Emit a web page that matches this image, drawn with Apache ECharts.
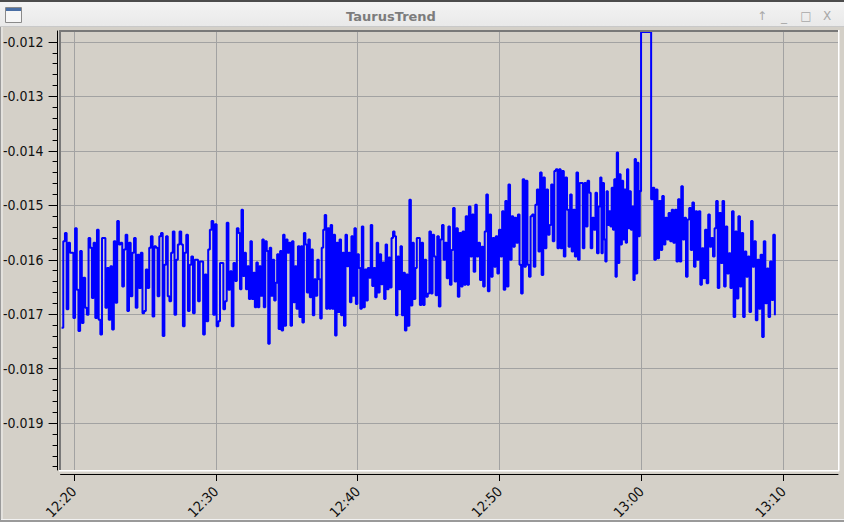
<!DOCTYPE html>
<html><head><meta charset="utf-8">
<script src="https://cdn.jsdelivr.net/npm/echarts@6/dist/echarts.min.js"></script>
<style>html,body{margin:0;padding:0;background:#d4d0c8;overflow:hidden}#c{width:844px;height:522px;}</style>
</head><body><div id="c"></div>
<script>
// ---- axis ticks ----
const yTickValues = [-0.019, -0.018, -0.017, -0.016, -0.015, -0.014, -0.013, -0.012];
const yTickLabels = ['-0.019', '-0.018', '-0.017', '-0.016', '-0.015', '-0.014', '-0.013', '-0.012'];
const xTickValues = [740, 750, 760, 770, 780, 790]; // minutes since midnight
const xTickLabels = ['12:20', '12:30', '12:40', '12:50', '13:00', '13:10'];

// ---- sample segments (boundary times in minutes since midnight) ----
const segTimes = [739.13, 751.60, 764.27, 777.09, 779.97, 780.68, 789.40];

const seg1 = [-0.01725,-0.01566,-0.01551,-0.01691,-0.01569,-0.01587,-0.01587,-0.01707,-0.01542,-0.01655,-0.01731,-0.01584,-0.01716,-0.01633,-0.01688,-0.01701,-0.01560,-0.01578,-0.01670,-0.01569,-0.01707,-0.01545,-0.01710,-0.01737,-0.01560,-0.01560,-0.01688,-0.01615,-0.01710,-0.01612,-0.01728,-0.01566,-0.01679,-0.01529,-0.01572,-0.01569,-0.01649,-0.01581,-0.01554,-0.01694,-0.01569,-0.01667,-0.01587,-0.01560,-0.01688,-0.01591,-0.01652,-0.01587,-0.01698,-0.01694,-0.01618,-0.01652,-0.01578,-0.01557,-0.01704,-0.01575,-0.01578,-0.01667,-0.01557,-0.01551,-0.01740,-0.01609,-0.01557,-0.01667,-0.01676,-0.01587,-0.01548,-0.01701,-0.01600,-0.01572,-0.01548,-0.01572,-0.01722,-0.01587,-0.01554,-0.01694,-0.01609,-0.01594,-0.01698,-0.01600,-0.01600,-0.01676,-0.01603,-0.01603,-0.01737,-0.01627,-0.01713,-0.01581,-0.01545,-0.01529,-0.01701,-0.01535,-0.01722,-0.01713,-0.01606,-0.01606,-0.01691,-0.01676,-0.01532,-0.01655,-0.01621,-0.01722,-0.01606,-0.01639,-0.01542];

const seg2 = [-0.01551,-0.01654,-0.01508,-0.01630,-0.01587,-0.01654,-0.01612,-0.01672,-0.01566,-0.01672,-0.01624,-0.01687,-0.01605,-0.01687,-0.01612,-0.01666,-0.01563,-0.01687,-0.01566,-0.01584,-0.01754,-0.01578,-0.01666,-0.01600,-0.01675,-0.01642,-0.01590,-0.01727,-0.01584,-0.01730,-0.01554,-0.01721,-0.01563,-0.01587,-0.01569,-0.01721,-0.01566,-0.01678,-0.01612,-0.01690,-0.01575,-0.01705,-0.01575,-0.01715,-0.01551,-0.01572,-0.01660,-0.01563,-0.01669,-0.01581,-0.01702,-0.01636,-0.01666,-0.01600,-0.01636,-0.01708,-0.01578,-0.01545,-0.01518,-0.01690,-0.01542,-0.01690,-0.01536,-0.01690,-0.01554,-0.01739,-0.01569,-0.01696,-0.01563,-0.01702,-0.01587,-0.01721,-0.01554,-0.01612,-0.01587,-0.01678,-0.01557,-0.01666,-0.01542,-0.01681,-0.01590,-0.01615,-0.01690,-0.01539,-0.01687,-0.01618,-0.01675,-0.01615,-0.01633,-0.01536,-0.01648,-0.01615,-0.01669,-0.01569,-0.01660,-0.01590,-0.01645,-0.01605,-0.01672,-0.01572,-0.01654,-0.01596,-0.01651,-0.01560,-0.01548,-0.01557,-0.01702,-0.01594,-0.01654,-0.01575,-0.01702,-0.01624,-0.01730,-0.01627,-0.01721,-0.01490,-0.01684,-0.01569,-0.01672,-0.01615,-0.01560];

const seg3 = [-0.01560,-0.01683,-0.01569,-0.01683,-0.01600,-0.01668,-0.01662,-0.01548,-0.01662,-0.01554,-0.01594,-0.01665,-0.01557,-0.01686,-0.01563,-0.01536,-0.01600,-0.01569,-0.01634,-0.01539,-0.01646,-0.01582,-0.01505,-0.01640,-0.01542,-0.01668,-0.01551,-0.01649,-0.01548,-0.01646,-0.01520,-0.01646,-0.01502,-0.01594,-0.01517,-0.01622,-0.01499,-0.01594,-0.01569,-0.01637,-0.01576,-0.01649,-0.01548,-0.01480,-0.01658,-0.01517,-0.01631,-0.01560,-0.01613,-0.01557,-0.01625,-0.01545,-0.01594,-0.01511,-0.01655,-0.01492,-0.01649,-0.01462,-0.01600,-0.01520,-0.01576,-0.01523,-0.01569,-0.01517,-0.01609,-0.01662,-0.01452,-0.01613,-0.01455,-0.01609,-0.01631,-0.01520,-0.01517,-0.01613,-0.01499,-0.01471,-0.01585,-0.01440,-0.01628,-0.01449,-0.01579,-0.01471,-0.01554,-0.01536,-0.01462,-0.01566,-0.01437,-0.01434,-0.01579,-0.01434,-0.01579,-0.01437,-0.01594,-0.01449,-0.01508,-0.01576,-0.01480,-0.01585,-0.01508,-0.01594,-0.01440,-0.01600,-0.01459,-0.01459,-0.01579,-0.01459,-0.01539,-0.01455,-0.01477,-0.01579,-0.01523,-0.01545,-0.01477,-0.01588,-0.01502];

const seg4 = [-0.01449,-0.01588,-0.01459,-0.01563,-0.01603,-0.01474,-0.01536,-0.01511,-0.01539,-0.01468,-0.01545,-0.01452,-0.01631,-0.01403,-0.01606,-0.01443,-0.01572,-0.01455,-0.01563,-0.01471,-0.01569,-0.01434,-0.01542,-0.01474,-0.01545,-0.01502,-0.01637,-0.01415,-0.01625,-0.01422,-0.01557,-0.01474];

const spike = [-0.01182, -0.01182];

const seg5 = [-0.01489,-0.01468,-0.01600,-0.01471,-0.01597,-0.01492,-0.01582,-0.01483,-0.01572,-0.01523,-0.01563,-0.01514,-0.01566,-0.01508,-0.01569,-0.01508,-0.01603,-0.01489,-0.01603,-0.01465,-0.01563,-0.01523,-0.01631,-0.01526,-0.01505,-0.01582,-0.01495,-0.01613,-0.01511,-0.01600,-0.01511,-0.01646,-0.01579,-0.01634,-0.01545,-0.01643,-0.01517,-0.01576,-0.01560,-0.01594,-0.01542,-0.01492,-0.01652,-0.01514,-0.01606,-0.01492,-0.01649,-0.01539,-0.01625,-0.01588,-0.01652,-0.01511,-0.01705,-0.01548,-0.01671,-0.01520,-0.01649,-0.01551,-0.01705,-0.01585,-0.01631,-0.01594,-0.01696,-0.01529,-0.01613,-0.01566,-0.01711,-0.01600,-0.01690,-0.01591,-0.01742,-0.01566,-0.01680,-0.01616,-0.01705,-0.01603,-0.01674,-0.01554,-0.01702];

const segments = [seg1, seg2, seg3, seg4, spike, seg5];

// build [time, value] pairs: samples evenly spread inside each segment
const data = [];
segments.forEach((seg, i) => {
  const t0 = segTimes[i], t1 = segTimes[i + 1];
  const last = i === segments.length - 1;
  const step = last ? (t1 - t0) / (seg.length - 1) : (t1 - t0) / seg.length;
  seg.forEach((v, k) => data.push([t0 + k * step, v]));
});

const FONT = "'DejaVu Sans Condensed', 'DejaVu Sans', sans-serif";
const chart = echarts.init(document.getElementById('c'), null, {renderer: 'svg'});

chart.setOption({
  animation: false,
  backgroundColor: '#d4d0c8',
  grid: {left: 60, right: 6, top: 31, bottom: 52, containLabel: false},
  xAxis: {
    type: 'value', min: 739.06, max: 793.85, offset: 4,
    axisLine: {show: true, onZero: false, lineStyle: {color: '#000', width: 1}},
    axisTick: {show: true, length: 7, customValues: xTickValues, lineStyle: {color: '#000'}},
    axisLabel: {
      customValues: xTickValues, rotate: 45, margin: 15,
      color: '#111', fontSize: 14, fontFamily: FONT,
      formatter: v => xTickLabels[xTickValues.indexOf(Math.round(v))] || ''
    },
    splitLine: {show: true, lineStyle: {color: '#a2a2a2', width: 1}}
  },
  yAxis: {
    type: 'value', min: -0.01986, max: -0.0118, offset: 3,
    minInterval: 0.001, maxInterval: 0.001,
    axisLine: {show: true, onZero: false, lineStyle: {color: '#000', width: 1}},
    axisTick: {show: true, length: 9, customValues: yTickValues, lineStyle: {color: '#000'}},
    minorTick: {show: true, splitNumber: 5, length: 5, lineStyle: {color: '#000'}},
    axisLabel: {
      customValues: yTickValues, margin: 14, color: '#111', fontSize: 14, fontFamily: FONT,
      formatter: v => {
        const i = yTickValues.findIndex(t => Math.abs(t - v) < 1e-7);
        return i >= 0 ? yTickLabels[i] : '';
      }
    },
    splitLine: {show: true, lineStyle: {color: '#a2a2a2', width: 1}}
  },
  series: [{
    type: 'line', data: data, step: 'end', showSymbol: false, symbol: 'none',
    lineStyle: {color: '#0000ff', width: 2}, clip: true, z: 3
  }],
  graphic: [
    // title bar
    {type: 'rect', shape: {x: 0, y: 0, width: 844, height: 27}, style: {fill: new echarts.graphic.LinearGradient(0, 0, 0, 1, [{offset: 0, color: '#f4f4f4'}, {offset: 1, color: '#e9e9e9'}])}, z: 100},
    {type: 'rect', shape: {x: 0, y: 0, width: 844, height: 2}, style: {fill: '#4c4c4c'}, z: 101},
    {type: 'rect', shape: {x: 0, y: 26, width: 844, height: 1}, style: {fill: '#c9c9c9'}, z: 101},
    {type: 'rect', shape: {x: 5.5, y: 7.5, width: 16, height: 15}, style: {fill: '#f6f6f6', stroke: '#8a8a8a', lineWidth: 1}, z: 101},
    {type: 'rect', shape: {x: 6, y: 8, width: 15, height: 3}, style: {fill: '#4a6fa5'}, z: 102},
    {type: 'text', x: 391, y: 16, style: {text: 'TaurusTrend', fill: '#7c7c7c', font: "bold 13px 'DejaVu Sans', sans-serif", align: 'center', verticalAlign: 'middle'}, z: 101},
    {type: 'text', x: 762, y: 16, style: {text: '↑', fill: '#a8a8a8', font: "12px 'DejaVu Sans', sans-serif", align: 'center', verticalAlign: 'middle'}, z: 101},
    {type: 'text', x: 784, y: 17, style: {text: '_', fill: '#a8a8a8', font: "12px 'DejaVu Sans', sans-serif", align: 'center', verticalAlign: 'middle'}, z: 101},
    {type: 'text', x: 806, y: 16, style: {text: '□', fill: '#a8a8a8', font: "12px 'DejaVu Sans', sans-serif", align: 'center', verticalAlign: 'middle'}, z: 101},
    {type: 'text', x: 827, y: 16, style: {text: 'X', fill: '#a8a8a8', font: "12px 'DejaVu Sans', sans-serif", align: 'center', verticalAlign: 'middle'}, z: 101},
    // window outline
    {type: 'rect', shape: {x: 1.5, y: 27, width: 1, height: 493}, style: {fill: '#f2f2f2'}, z: 100},
    {type: 'rect', shape: {x: 0, y: 27, width: 1, height: 495}, style: {fill: '#9a9a9a'}, z: 100},
    {type: 'rect', shape: {x: 1, y: 519, width: 843, height: 1}, style: {fill: '#f2f2f2'}, z: 100},
    {type: 'rect', shape: {x: 0, y: 520, width: 844, height: 2}, style: {fill: '#9a9a9a'}, z: 100},
    // plot canvas frame (sunken)
    {type: 'rect', shape: {x: 59, y: 30, width: 780, height: 2}, style: {fill: '#787878'}, z: 50},
    {type: 'rect', shape: {x: 59, y: 30, width: 2, height: 441}, style: {fill: '#787878'}, z: 50},
    {type: 'rect', shape: {x: 59, y: 470, width: 780, height: 1.5}, style: {fill: '#ffffff'}, z: 50},
    {type: 'rect', shape: {x: 838, y: 30, width: 1.5, height: 441}, style: {fill: '#ffffff'}, z: 50}
  ]
});
</script></body></html>
